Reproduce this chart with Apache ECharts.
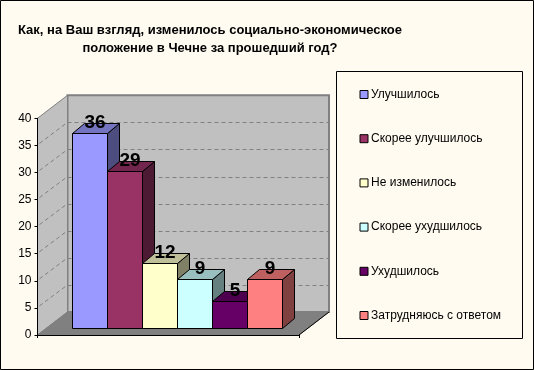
<!DOCTYPE html>
<html><head><meta charset="utf-8">
<style>html,body{margin:0;padding:0;background:#FFFBF0}#c{width:534px;height:370px}</style>
<script src="https://cdn.jsdelivr.net/npm/echarts@6/dist/echarts.min.js"></script>
</head><body><div id="c"></div>
<script>
const titleLines = ['Как, на Ваш взгляд, изменилось социально-экономическое', 'положение в Чечне за прошедший год?'];
const categories = [''];
const seriesNames = ['Улучшилось', 'Скорее улучшилось', 'Не изменилось', 'Скорее ухудшилось', 'Ухудшилось', 'Затрудняюсь с ответом'];
const seriesValues = [36, 29, 12, 9, 5, 9];
const seriesColors = ['#9999FF', '#993366', '#FFFFCC', '#CCFFFF', '#660066', '#FF8080'];
const yTicks = [5, 10, 15, 20, 25, 30, 35];

const DX = 30, DY = -23;          // wall depth
const BAR_W = 35, BDX = 12, BDY = -10, BASE_X = 9, BASE_Y = -7; // bar box
const snap = v => Math.round(v) + 0.5;
const shade = (hex, f) => {
  const n = parseInt(hex.slice(1), 16);
  return 'rgb(' + [n >> 16, (n >> 8) & 255, n & 255].map(c => Math.round(c * f)).join(',') + ')';
};
const poly = (points, fill, stroke, lw) => ({
  type: 'polygon', shape: { points },
  style: { fill, stroke: stroke || 'none', lineWidth: lw || 1 }
});

const chart = echarts.init(document.getElementById('c'), null, { renderer: 'canvas' });

const wallSeries = {
  type: 'custom', name: '_walls', silent: true, clip: false, z: 1,
  data: [[0, 40]],
  renderItem: (p, api) => {
    const c0 = api.coord([0, 0]), c1 = api.coord([0, 40]), w = api.size([1, 0])[0];
    const l = c0[0] - w / 2, r = c0[0] + w / 2, b = c0[1], t = c1[1];
    return { type: 'group', children: [
      poly([[l + DX, t + DY], [r + DX, t + DY], [r + DX, b + DY], [l + DX, b + DY]], '#C0C0C0', '#808080', 2),
      poly([[l, t], [l + DX, t + DY], [l + DX, b + DY], [l, b]], '#C0C0C0', '#808080', 1),
      poly([[l, b], [l + DX, b + DY], [r + DX, b + DY], [r, b]], '#808080', '#808080', 1),
      { type: 'line', shape: { x1: r, y1: b, x2: r + DX, y2: b + DY }, style: { stroke: '#000', lineWidth: 1 } }
    ]};
  }
};
const gridSeries = {
  type: 'custom', name: '_grid', silent: true, clip: false, z: 2,
  data: yTicks.map(v => [0, v]),
  renderItem: (p, api) => {
    const c = api.coord([0, api.value(1)]), w = api.size([1, 0])[0];
    const l = c[0] - w / 2, r = c[0] + w / 2, y = c[1];
    const st = { stroke: '#808080', lineWidth: 1, lineDash: [4, 3] };
    return { type: 'group', children: [
      { type: 'line', shape: { x1: l + 2, y1: y - 2, x2: l + DX, y2: y + DY }, style: st },
      { type: 'line', shape: { x1: l + DX, y1: snap(y + DY), x2: r + DX, y2: snap(y + DY) }, style: st }
    ]};
  }
};
const barSeries = seriesNames.map((name, i) => ({
  type: 'custom', name, clip: false, z: 3 + i, silent: true,
  itemStyle: { color: seriesColors[i] },
  encode: { x: 0, y: 1 },
  data: [[categories[0], seriesValues[i]]],
  renderItem: (p, api) => {
    const top = api.coord([0, api.value(1)]), base = api.coord([0, 0]);
    const x0 = snap(top[0] + (i - seriesNames.length / 2) * BAR_W + BASE_X), x1 = x0 + BAR_W;
    const yt = snap(top[1] + BASE_Y), yb = snap(base[1] + BASE_Y);
    const col = seriesColors[i];
    return { type: 'group', children: [
      poly([[x1, yt], [x1 + BDX, yt + BDY], [x1 + BDX, yb + BDY], [x1, yb]], shade(col, 0.5), '#000'),
      poly([[x0, yt], [x0 + BDX, yt + BDY], [x1 + BDX, yt + BDY], [x1, yt]], shade(col, 0.75), '#000'),
      poly([[x0, yt], [x1, yt], [x1, yb], [x0, yb]], col, '#000'),
      { type: 'text', z2: 50, style: {
        text: String(seriesValues[i]), x: x0 + BAR_W / 2 + 5, y: yt - 11,
        align: 'center', verticalAlign: 'middle',
        font: 'bold 19px "Liberation Sans", Arial, sans-serif', fill: '#000' } }
    ]};
  }
}));

chart.setOption({
  animation: false,
  backgroundColor: '#FFFBF0',
  title: {
    text: titleLines.join('\n'), left: 205, top: 16, textAlign: 'center',
    textStyle: { fontFamily: '"Liberation Sans", Arial, sans-serif', fontWeight: 'bold', fontSize: 13, lineHeight: 18, color: '#000' }
  },
  grid: { left: 37.5, top: 118.3, width: 261.5, height: 216.7, containLabel: false },
  xAxis: {
    type: 'category', data: categories, z: 20,
    axisLine: { lineStyle: { color: '#000' } },
    axisTick: { show: true, length: 3, lineStyle: { color: '#000' } },
    axisLabel: { show: false }, splitLine: { show: false }
  },
  yAxis: {
    type: 'value', min: 0, max: 40, interval: 5, z: 20,
    axisLine: { show: true, lineStyle: { color: '#000' } },
    axisTick: { show: true, length: 3, lineStyle: { color: '#000' } },
    axisLabel: { color: '#000', fontFamily: '"Liberation Sans", Arial, sans-serif', fontSize: 12, margin: 6, padding: [2, 0, 0, 0] },
    splitLine: { show: false }
  },
  legend: {
    orient: 'vertical', left: 359.5, top: 87, padding: 0,
    itemWidth: 8, itemHeight: 8, itemGap: 29.2, icon: 'rect', selectedMode: false,
    textStyle: { fontFamily: '"Liberation Sans", Arial, sans-serif', fontSize: 12, color: '#000', padding: [0, 0, 0, -2], lineHeight: 15 },
    data: seriesNames.map((name, i) => ({ name, itemStyle: { color: seriesColors[i], borderColor: '#000', borderWidth: 1 } }))
  },
  graphic: [
    { type: 'rect', z: -1, shape: { x: 336.5, y: 71.5, width: 186, height: 267 }, style: { fill: '#FFFBF0', stroke: '#000', lineWidth: 1 } },
    { type: 'rect', z: 100, silent: true, shape: { x: 0.5, y: 0.5, width: 533, height: 369 }, style: { fill: 'none', stroke: '#000', lineWidth: 1 } }
  ],
  series: [wallSeries, gridSeries].concat(barSeries)
});
</script></body></html>
